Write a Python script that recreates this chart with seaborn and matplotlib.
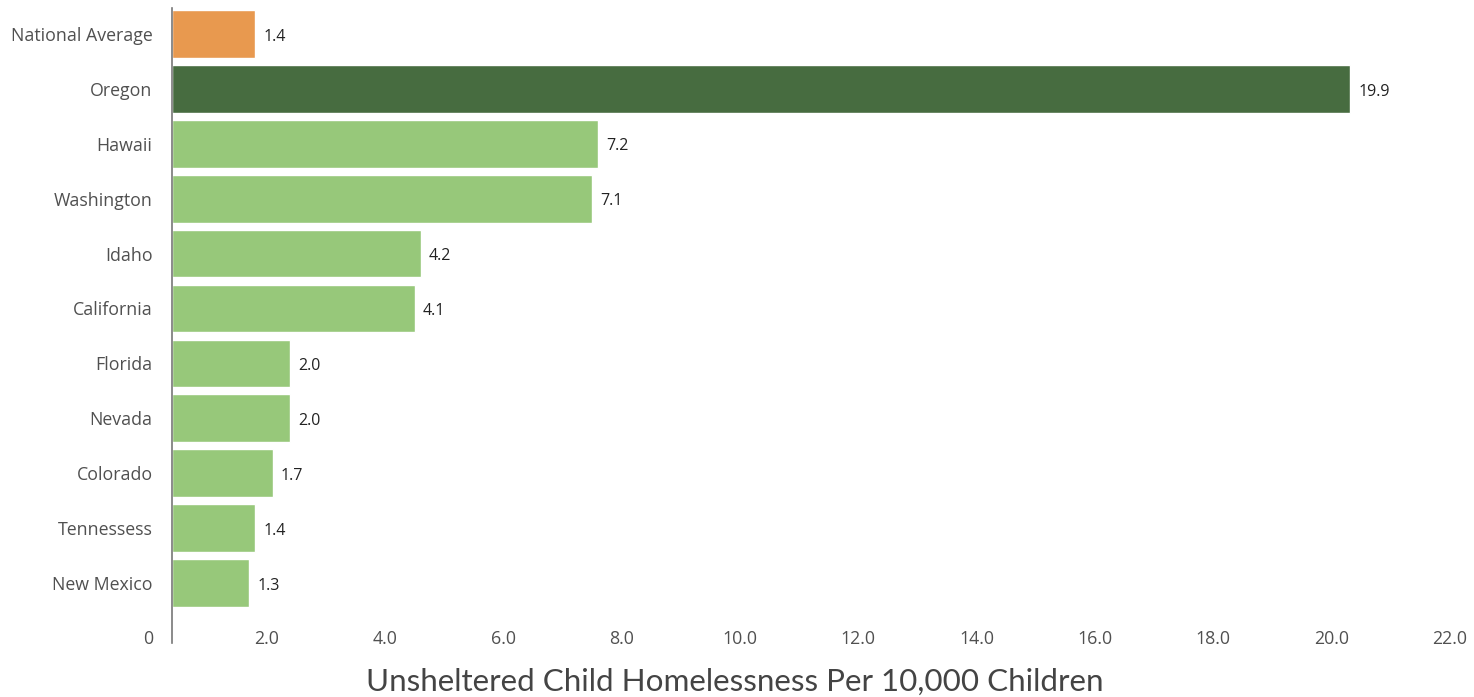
import matplotlib
matplotlib.use("Agg")
import matplotlib.pyplot as plt
import matplotlib.transforms as mtransforms
import seaborn as sns
import pandas as pd

states = ["National Average", "Oregon", "Hawaii", "Washington", "Idaho", "California",
          "Florida", "Nevada", "Colorado", "Tennessess", "New Mexico"]
values = [1.4, 19.9, 7.2, 7.1, 4.2, 4.1, 2.0, 2.0, 1.7, 1.4, 1.3]
bar_colors = ["#E8994F", "#476C40"] + ["#97C87A"] * 9
tick_values = [0, 2, 4, 6, 8, 10, 12, 14, 16, 18, 20, 22]
tick_labels = ["0", "2.0", "4.0", "6.0", "8.0", "10.0", "12.0", "14.0", "16.0", "18.0", "20.0", "22.0"]
x_title = "Unsheltered Child Homelessness Per 10,000 Children"

sns.set_style("white")
plt.rcParams["font.family"] = ["Open Sans", "DejaVu Sans"]

df = pd.DataFrame({"state": states, "value": values})

fig = plt.figure(figsize=(14.74, 6.97), dpi=100)
ax = fig.add_axes([172 / 1474, 1 - 643 / 697, (1474 - 172) / 1474, (643 - 8) / 697])

sns.barplot(data=df, y="state", x="value", hue="state", order=states,
            palette=dict(zip(states, bar_colors)), legend=False, width=0.87,
            saturation=1, ax=ax, orient="h")

for cont in ax.containers:
    texts = ax.bar_label(cont, fmt="%.1f", padding=6, fontsize=11.5, color="#222222")
    for t in texts:
        t.xyann = (6, -2)

ax.set_xlim(0, 21.97)
ax.set_ylim(11.09, -0.47)
ax.set_xlabel("")
ax.set_ylabel("")

for s in ["top", "right", "bottom"]:
    ax.spines[s].set_visible(False)
ax.spines["left"].set_color("#777777")
ax.spines["left"].set_linewidth(1.2)

ax.tick_params(axis="y", length=0, pad=14, labelsize=12.8, labelcolor="#505050")
ax.set_xticks(tick_values)
ax.set_xticklabels(tick_labels)
ax.tick_params(axis="x", length=0, pad=-9, labelsize=12.8, labelcolor="#505050")
offset = mtransforms.ScaledTranslation(-24 / 100, 0, fig.dpi_scale_trans)
for lab in ax.get_xticklabels():
    lab.set_transform(lab.get_transform() + offset)

fig.text(0.4985, 1 - 682 / 697, x_title, ha="center", va="center",
         fontsize=22.6, color="#444444", family=["Lato", "DejaVu Sans"], fontweight="normal")

fig.savefig("out.png", dpi=100)
